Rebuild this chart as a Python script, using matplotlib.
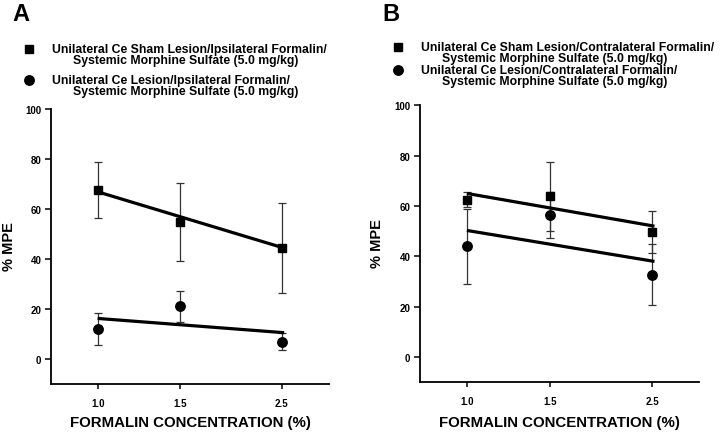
import matplotlib
matplotlib.use("Agg")
import matplotlib.pyplot as plt
from matplotlib.lines import Line2D

plt.rcParams['font.family'] = ['Liberation Sans', 'DejaVu Sans']
plt.rcParams['font.weight'] = 'bold'

# Data (% MPE, mean +/- SEM)
conc_labels = ['1.0', '1.5', '2.5']

a_sham_mean = [67.5, 54.8, 44.4]
a_sham_err = [11.3, 15.5, 18.1]
a_lesion_mean = [12.0, 21.0, 6.8]
a_lesion_err = [6.4, 6.2, 3.4]
a_sham_fit = [66.8, 44.3]
a_lesion_fit = [16.2, 10.5]

b_sham_mean = [62.5, 63.8, 49.7]
b_sham_err = [3.0, 13.8, 8.4]
b_lesion_mean = [44.0, 56.5, 32.7]
b_lesion_err = [14.8, 9.2, 12.2]
b_sham_fit = [65.0, 52.0]
b_lesion_fit = [50.3, 38.0]

a_labels = ["Unilateral Ce Sham Lesion/Ipsilateral Formalin/",
            "Unilateral Ce Lesion/Ipsilateral Formalin/"]
b_labels = ["Unilateral Ce Sham Lesion/Contralateral Formalin/",
            "Unilateral Ce Lesion/Contralateral Formalin/"]
sub_label = "Systemic Morphine Sulfate (5.0 mg/kg)"

# layout (x positions on the axis are not evenly spaced in the original)
conc_pos = [0.0, 1.0, 2.23]
fit_x = [0.0, 2.26]

W, H = 720, 435
fig = plt.figure(figsize=(W / 100, H / 100), dpi=100)


def fx(px):
    return px / W


def fy(py):
    return 1 - py / H


def draw_panel(rect, sham_m, sham_e, les_m, les_e, sham_fit, les_fit):
    ax = fig.add_axes(rect)
    for m, e in ((sham_m, sham_e), (les_m, les_e)):
        ax.errorbar(conc_pos, m, yerr=e, fmt='none', ecolor='#333333',
                    elinewidth=0.9, capsize=2.6, capthick=0.9, zorder=2)
    ax.plot(fit_x, sham_fit, color='black', lw=2.3, zorder=3,
            solid_capstyle='butt')
    ax.plot(fit_x, les_fit, color='black', lw=2.3, zorder=3,
            solid_capstyle='butt')
    ax.plot(conc_pos, sham_m, ls='none', marker='s', ms=6.2, color='black',
            zorder=4)
    ax.plot(conc_pos, les_m, ls='none', marker='o', ms=6.8, color='black',
            zorder=4)
    ax.set_xlim(-0.565, 2.80)
    ax.set_ylim(-10, 100)
    ax.set_yticks([0, 20, 40, 60, 80, 100])
    ax.set_xticks(conc_pos)
    ax.set_xticklabels(conc_labels)
    ax.spines['top'].set_visible(False)
    ax.spines['right'].set_visible(False)
    ax.spines['left'].set_linewidth(1.3)
    ax.spines['bottom'].set_linewidth(1.3)
    ax.spines['left'].set_bounds(-10, 100)
    ax.tick_params(axis='y', length=4.5, width=1.1, pad=2.5, labelsize=7)
    ax.tick_params(axis='x', length=3.8, width=1.1, pad=6, labelsize=7)
    ax.patch.set_alpha(0)
    return ax


ax_a = draw_panel([fx(51), 1 - 385 / H, 277.7 / W, 275.3 / H],
                  a_sham_mean, a_sham_err, a_lesion_mean, a_lesion_err,
                  a_sham_fit, a_lesion_fit)
ax_b = draw_panel([fx(420), 1 - 383.3 / H, 279.3 / W, 277 / H],
                  b_sham_mean, b_sham_err, b_lesion_mean, b_lesion_err,
                  b_sham_fit, b_lesion_fit)

# axis titles
for xc, yc in ((9.2, 247), (377, 244)):
    fig.text(fx(xc), fy(yc), "% MPE", rotation=90, ha='center', va='center',
             fontsize=10.5, fontweight='bold')
for xc in (190, 559):
    fig.text(fx(xc), fy(423), "FORMALIN CONCENTRATION (%)", ha='center',
             va='center', fontsize=10.8, fontweight='bold')

# panel letters
fig.text(fx(12), fy(14.5), "A", ha='left', va='center', fontsize=17,
         fontweight='bold')
fig.text(fx(382), fy(14.5), "B", ha='left', va='center', fontsize=17,
         fontweight='bold')

# legends drawn by hand
legend_sets = [
    (29, 52, 72.7, [50, 61, 81, 92], a_labels),
    (397.7, 421, 441.7, [48, 59.3, 71, 81.7], b_labels),
]
for mx, tx, tx2, ys, labels in legend_sets:
    for k, mk in enumerate(['s', 'o']):
        y1, y2 = ys[2 * k], ys[2 * k + 1]
        fig.add_artist(Line2D([fx(mx)], [fy(y1)], marker=mk, ls='none',
                              color='black', ms=6.2 if mk == 's' else 6.8,
                              transform=fig.transFigure))
        fig.text(fx(tx), fy(y1), labels[k], ha='left', va='center',
                 fontsize=8.8, fontweight='bold')
        fig.text(fx(tx2), fy(y2), sub_label, ha='left', va='center',
                 fontsize=8.8, fontweight='bold')

fig.savefig("out.png", dpi=100)
